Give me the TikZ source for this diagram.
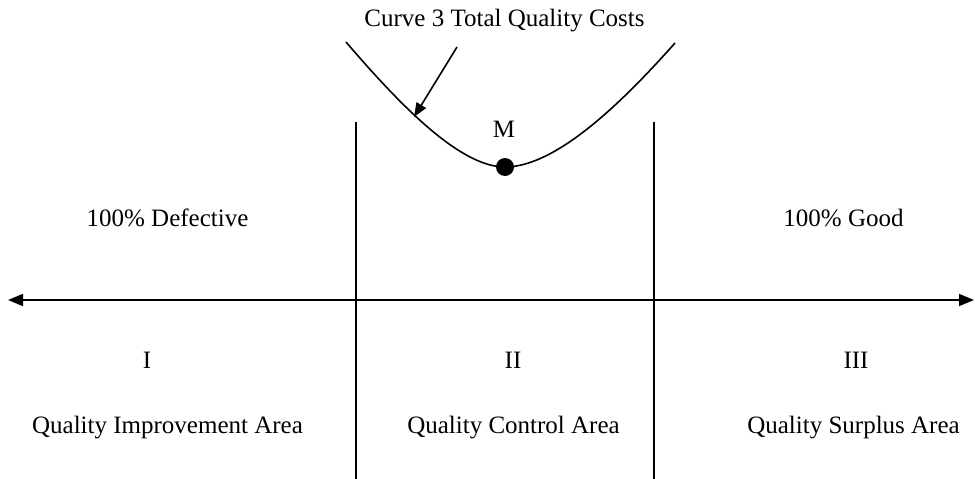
\documentclass[tikz,border=0pt]{standalone}
\usepackage{fontspec}
\setmainfont{Liberation Serif}
\usetikzlibrary{arrows.meta}
\begin{document}
\begin{tikzpicture}[x=1pt,y=-1pt,
  lbl/.style={anchor=base,font=\fontsize{25}{30}\selectfont,inner sep=0pt},
  axisline/.style={line width=1.8pt,{Triangle[length=15pt,width=12pt]}-{Triangle[length=15pt,width=12pt]}},
  divline/.style={line width=1.6pt},
  curveline/.style={line width=1.6pt},
  pointer/.style={line width=1.6pt,-{Triangle[length=14pt,width=11pt]}},
  dot/.style={circle,fill=black,minimum size=18pt,inner sep=0pt}]
\useasboundingbox (0,0) rectangle (975,479);
% axis
\coordinate (axL) at (8,300);
\coordinate (axR) at (974,300);
\draw[axisline] (axL) -- (axR);
% dividers
\coordinate (d1t) at (356,122);
\coordinate (d1b) at (356,479);
\coordinate (d2t) at (654,122);
\coordinate (d2b) at (654,479);
\draw[divline] (d1t) -- (d1b);
\draw[divline] (d2t) -- (d2b);
% curve
\coordinate (cL) at (346,42);
\coordinate (cR) at (675,43);
\node[dot] (M) at (505,167) {};
\draw[curveline] (cL) .. controls (400,105) and (460,167) .. (M.center)
  .. controls (555,167) and (620,105) .. (cR);
\node[lbl] (Mlab) at (504,137) {M};
% pointer
\coordinate (pS) at (457,47);
\coordinate (pE) at (414,117);
\draw[pointer] (pS) -- (pE);
% texts
\node[lbl] (title) at (504.5,27) {Curve 3 Total Quality Costs};
\node[lbl] (def) at (167.5,226) {100\% Defective};
\node[lbl] (good) at (843.5,226) {100\% Good};
\node[lbl] (r1) at (147,368) {I};
\node[lbl] (r2) at (513,368) {II};
\node[lbl] (r3) at (856,368) {III};
\node[lbl] (qia) at (167.5,433) {Quality Improvement Area};
\node[lbl] (qca) at (513.5,433) {Quality Control Area};
\node[lbl] (qsa) at (853.5,433) {Quality Surplus Area};
\end{tikzpicture}
\end{document}
